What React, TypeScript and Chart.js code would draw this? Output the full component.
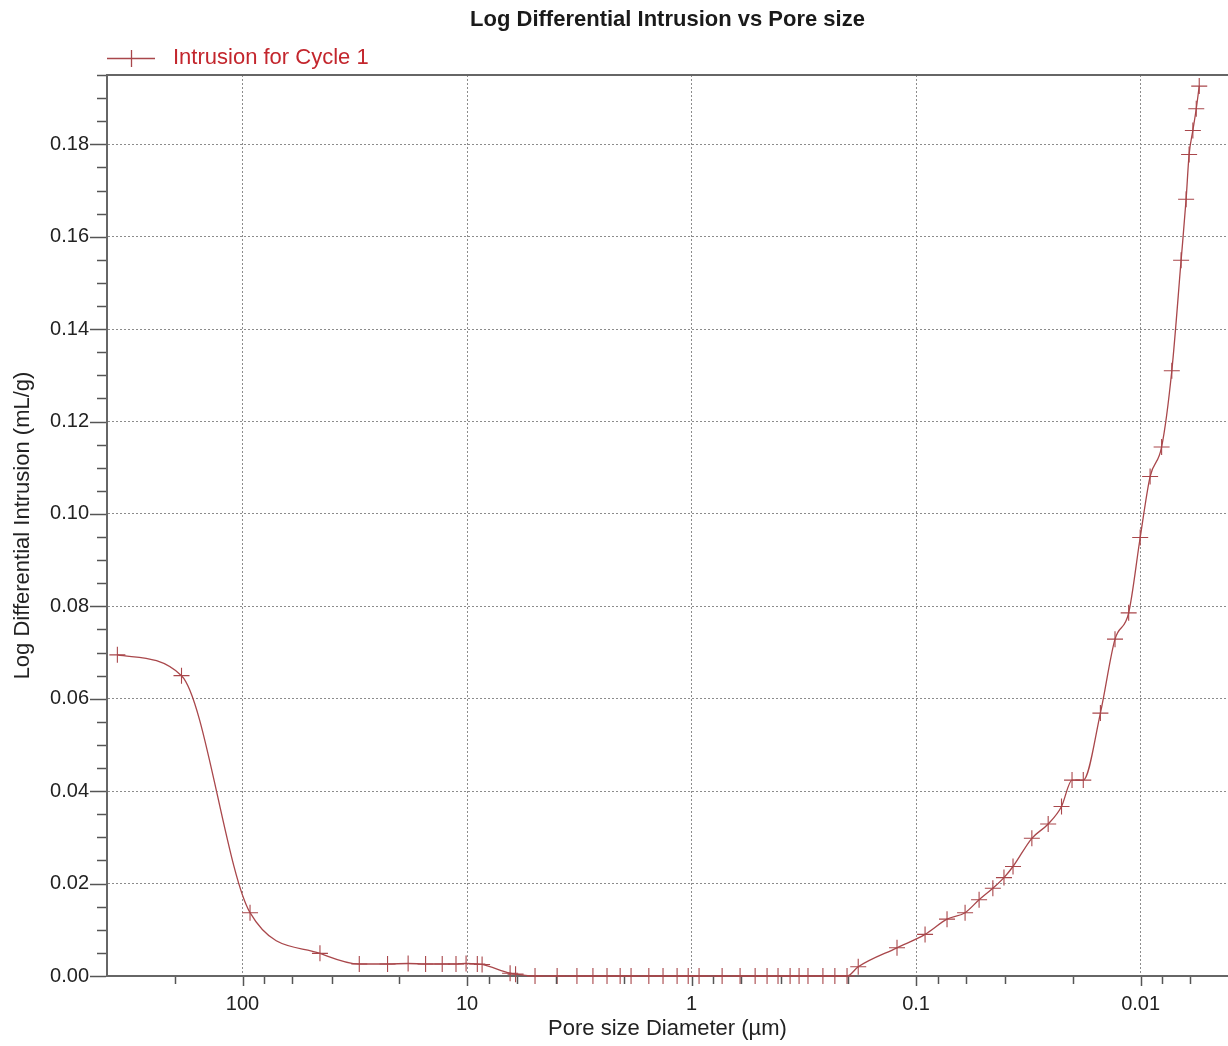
import React, { useEffect, useRef } from "react";
import { Chart, registerables } from "chart.js";

Chart.register(...registerables);

const TITLE = "Log Differential Intrusion vs Pore size";
const SERIES_LABEL = "Intrusion for Cycle 1";
const X_TITLE = "Pore size Diameter (µm)";
const Y_TITLE = "Log Differential Intrusion (mL/g)";

// Pore size diameter (µm)
const poreSize = [
  361, 187, 92.6, 45.2, 30.2, 22.6, 18.3, 15.3, 12.9, 11.2, 10.1, 9.0, 8.57, 6.43, 6.08,
  4.98, 3.97, 3.24, 2.75, 2.38, 2.08, 1.86, 1.55, 1.34, 1.16, 1.035, 0.926, 0.731, 0.608,
  0.521, 0.461, 0.412, 0.364, 0.332, 0.303, 0.26, 0.23, 0.203,
  0.181, 0.1216, 0.0912, 0.0728, 0.0605, 0.0524, 0.0455, 0.0406, 0.037, 0.0305, 0.0258,
  0.0225, 0.0202, 0.018, 0.0151, 0.013, 0.0113, 0.01004, 0.00907, 0.00806, 0.00726,
  0.0066, 0.00627, 0.00608, 0.00585, 0.00565, 0.00548,
];

// Log differential intrusion (mL/g)
const intrusion = [
  0.0695, 0.065, 0.0137, 0.0049, 0.0026, 0.0026, 0.0027, 0.0026, 0.0026, 0.0026, 0.0027, 0.0026, 0.0025, 0.0006, 0.0004,
  0, 0, 0, 0, 0, 0, 0, 0, 0, 0, 0, 0, 0, 0,
  0, 0, 0, 0, 0, 0, 0, 0, 0,
  0.002, 0.0061, 0.009, 0.0123, 0.0137, 0.0165, 0.019, 0.0213, 0.0237, 0.0298, 0.0329,
  0.0367, 0.0424, 0.0424, 0.0569, 0.0729, 0.0786, 0.0949, 0.1081, 0.1145, 0.131,
  0.1549, 0.1681, 0.1778, 0.183, 0.1877, 0.1926,
];

const xMajorTicks = [100, 10, 1, 0.1, 0.01];
const xMinorTicks = [
  200, 80, 60, 40, 20, 8, 6, 4, 2, 0.8, 0.6, 0.4, 0.2, 0.08, 0.06, 0.04, 0.02, 0.008, 0.006, 0.004,
];
const yMajorTicks = [0, 0.02, 0.04, 0.06, 0.08, 0.1, 0.12, 0.14, 0.16, 0.18];
const yMinorStep = 0.005;

const X_MIN = 0.00408;
const X_MAX = 401.5;
const Y_MIN = 0;
const Y_MAX = 0.195;

const LINE_COLOR = "#a9474b";
const LEGEND_TEXT_COLOR = "#c3262d";
const AXIS_COLOR = "#666666";
const GRID_COLOR = "#8c8c8c";
const FONT = "'Liberation Sans', Arial, Helvetica, sans-serif";

const decorPlugin = {
  id: "decor",
  afterDraw(chart: any) {
    const { ctx, chartArea: a, scales } = chart;
    const x = scales.x;
    const y = scales.y;
    ctx.save();
    const seg = (x1: number, y1: number, x2: number, y2: number) => {
      ctx.beginPath();
      ctx.moveTo(x1, y1);
      ctx.lineTo(x2, y2);
      ctx.stroke();
    };
    // top frame line
    ctx.strokeStyle = AXIS_COLOR;
    ctx.lineWidth = 2;
    seg(a.left - 1, a.top, a.right, a.top);

    // y tick marks
    ctx.strokeStyle = "#555";
    ctx.lineWidth = 1.5;
    const n = Math.floor((Y_MAX - Y_MIN) / yMinorStep + 1e-6);
    for (let k = 0; k <= n; k++) {
      const v = Y_MIN + k * yMinorStep;
      const py = Math.round(y.getPixelForValue(v)) + 0.5;
      const major = yMajorTicks.some((t) => Math.abs(t - v) < 1e-9);
      const len = major ? 17 : 10;
      seg(a.left - len, py, a.left - 1, py);
    }
    // x tick marks
    const allX = [...xMajorTicks.map((v) => [v, 10]), ...xMinorTicks.map((v) => [v, 8])];
    for (const [v, len] of allX) {
      const px = Math.round(x.getPixelForValue(v)) + 0.5;
      if (px < a.left - 0.5 || px > a.right + 0.5) continue;
      seg(px, a.bottom + 1, px, a.bottom + len);
    }

    // title
    ctx.fillStyle = "#1a1a1a";
    ctx.font = `bold 22px ${FONT}`;
    ctx.textAlign = "center";
    ctx.textBaseline = "middle";
    ctx.fillText(TITLE, (a.left + a.right) / 2, 20);

    // legend
    const ds = chart.data.datasets[0];
    ctx.strokeStyle = LINE_COLOR;
    ctx.lineWidth = 1.3;
    seg(107, 58.5, 155, 58.5);
    seg(131.5, 50, 131.5, 67);
    ctx.fillStyle = LEGEND_TEXT_COLOR;
    ctx.font = `22px ${FONT}`;
    ctx.textAlign = "left";
    ctx.textBaseline = "middle";
    ctx.fillText(ds.label, 173, 58);
    ctx.restore();
  },
};

export default function App() {
  const ref = useRef<HTMLCanvasElement | null>(null);

  useEffect(() => {
    if (!ref.current) return;
    const points = poreSize.map((d, i) => ({ x: d, y: intrusion[i] }));
    const chart = new Chart(ref.current, {
      type: "line",
      data: {
        datasets: [
          {
            label: SERIES_LABEL,
            data: points,
            borderColor: LINE_COLOR,
            backgroundColor: LINE_COLOR,
            borderWidth: 1.3,
            pointStyle: "cross",
            pointRadius: 8,
            pointBorderWidth: 1.1,
            pointBorderColor: LINE_COLOR,
            cubicInterpolationMode: "monotone",
            fill: false,
            clip: false,
          } as any,
        ],
      },
      options: {
        animation: false,
        responsive: false,
        events: [],
        layout: { autoPadding: false, padding: { top: 75, left: 0, right: 0, bottom: 0 } },
        plugins: {
          legend: { display: false },
          title: { display: false },
          tooltip: { enabled: false },
        },
        scales: {
          x: {
            type: "logarithmic",
            reverse: true,
            min: X_MIN,
            max: X_MAX,
            bounds: "data",
            afterBuildTicks: (s: any) => {
              s.ticks = xMajorTicks.map((v) => ({ value: v, major: true }));
            },
            afterFit: (s: any) => {
              s.height = 70;
              s.paddingLeft = 0;
              s.paddingRight = 0;
            },
            ticks: {
              autoSkip: false,
              maxRotation: 0,
              padding: 16,
              color: "#222",
              font: { family: FONT, size: 20 },
              callback: (v: any) => String(v),
            },
            grid: {
              color: GRID_COLOR,
              lineWidth: 1,
              drawTicks: false,
            },
            border: { display: true, color: AXIS_COLOR, width: 2, dash: [2, 2] },
            title: {
              display: true,
              text: X_TITLE,
              color: "#222",
              font: { family: FONT, size: 22 },
              padding: { top: 0, bottom: 4 },
            },
          } as any,
          y: {
            type: "linear",
            min: Y_MIN,
            max: Y_MAX,
            afterBuildTicks: (s: any) => {
              s.ticks = yMajorTicks.map((v) => ({ value: v }));
            },
            afterFit: (s: any) => {
              s.width = 107;
              s.paddingTop = 0;
              s.paddingBottom = 0;
            },
            ticks: {
              padding: 18,
              color: "#222",
              font: { family: FONT, size: 20 },
              callback: (v: any) => Number(v).toFixed(2),
            },
            grid: {
              color: GRID_COLOR,
              lineWidth: 1,
              drawTicks: false,
            },
            border: { display: true, color: AXIS_COLOR, width: 2, dash: [2, 2] },
            title: {
              display: true,
              text: Y_TITLE,
              color: "#222",
              font: { family: FONT, size: 22 },
              padding: { top: 10, bottom: 0 },
            },
          } as any,
        },
      },
      plugins: [decorPlugin],
    });
    return () => chart.destroy();
  }, []);

  return (
    <div style={{ position: "absolute", left: 0, top: 0, width: 1228, height: 1046, background: "#fff" }}>
      <canvas ref={ref} width={1228} height={1046} style={{ width: 1228, height: 1046, display: "block" }} />
    </div>
  );
}
